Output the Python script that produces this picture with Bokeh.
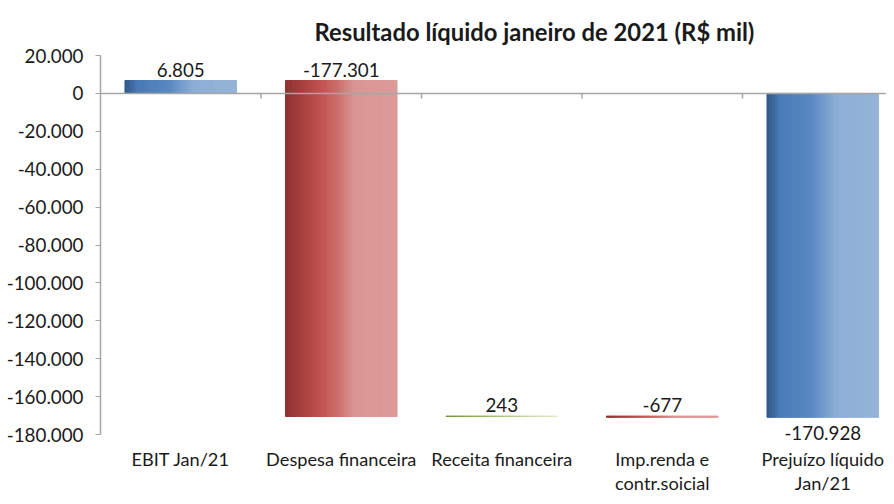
from bokeh.plotting import figure
from bokeh.models import Range1d, FixedTicker, Title, ColumnDataSource, Span
from bokeh.core.properties import value
from bokeh.embed import file_html
from bokeh.resources import INLINE

categories = ["EBIT Jan/21", "Despesa financeira", "Receita financeira",
              "Imp.renda e\ncontr.soicial", "Prejuízo líquido\nJan/21"]
values = [6805, -177301, 243, -677, -170928]
value_labels = ["6.805", "-177.301", "243", "-677", "-170.928"]
kinds = ["total", "delta", "delta", "delta", "total"]
y_ticks = [20000, 0, -20000, -40000, -60000, -80000, -100000, -120000,
           -140000, -160000, -180000]

FONT = "Lato"
FS = "18.8px"
BLUE = [(0.0, (0x2F, 0x57, 0x83)), (0.12, (0x4A, 0x7A, 0xB6)), (0.40, (0x58, 0x88, 0xC2)),
        (0.62, (0x8D, 0xAE, 0xD6)), (1.0, (0x95, 0xB3, 0xD7))]
RED = [(0.0, (0x8C, 0x31, 0x31)), (0.30, (0xBF, 0x4F, 0x4C)), (0.45, (0xCB, 0x68, 0x66)),
       (0.62, (0xD9, 0x95, 0x94)), (1.0, (0xDB, 0x9A, 0x99))]
GREEN = [(0.0, (0x77, 0x93, 0x3C)), (0.5, (0xA9, 0xC2, 0x7A)), (1.0, (0xE1, 0xEB, 0xCB))]


def interp(stops, t):
    for (t0, c0), (t1, c1) in zip(stops[:-1], stops[1:]):
        if t0 <= t <= t1:
            f = (t - t0) / (t1 - t0) if t1 > t0 else 0
            c = [round(a + (b - a) * f) for a, b in zip(c0, c1)]
            return "#%02x%02x%02x" % tuple(c)
    return "#%02x%02x%02x" % stops[-1][1]


# waterfall geometry
bottoms, tops, palettes = [], [], []
running = 0
for v, k in zip(values, kinds):
    if k == "total":
        b, t = 0, v
        running = v
        pal = BLUE
    else:
        b, t = running, running + v
        running += v
        pal = GREEN if v > 0 else RED
    bottoms.append(b)
    tops.append(t)
    palettes.append(pal)

# frame runs to the bottom of the canvas; the y axis is bounded to the tick range
p = figure(width=886, height=496, output_backend="svg", toolbar_location=None,
           x_range=Range1d(-0.5, len(categories) - 0.603),
           y_range=Range1d(min(y_ticks) - 32700, max(y_ticks)),
           min_border_left=100, min_border_right=0, min_border_top=55,
           min_border_bottom=0)
p.outline_line_color = None
p.xgrid.visible = False
p.ygrid.visible = False
p.background_fill_color = "white"
p.border_fill_color = "white"

W = 0.695
N = 40
L, R, B, T, C = [], [], [], [], []
for i, (b, t, pal) in enumerate(zip(bottoms, tops, palettes)):
    lo, hi = min(b, t), max(b, t)
    for j in range(N):
        L.append(i - W / 2 + j * W / N)
        R.append(i - W / 2 + (j + 1) * W / N)
        B.append(lo)
        T.append(hi)
        C.append(interp(pal, (j + 0.5) / N))
p.quad(left=L, right=R, bottom=B, top=T, fill_color=C, line_color=C, line_width=1)

# zero line with category separators
p.add_layout(Span(location=0, dimension="width", line_color="#A6A6A6", line_width=1.5))
sep = [i - 0.5 for i in range(1, len(categories))]
p.segment(x0=sep, x1=sep, y0=[0] * len(sep), y1=[-2700] * len(sep),
          line_color="#A6A6A6", line_width=1.5)

# data labels
lx, ly, lt, base, off = [], [], [], [], []
for i, (b, t, k, s) in enumerate(zip(bottoms, tops, kinds, value_labels)):
    if k == "total" and values[i] < 0:
        lx.append(i); ly.append(min(b, t)); lt.append(s); base.append("top"); off.append(9)
    else:
        lx.append(i); ly.append(max(b, t)); lt.append(s); base.append("bottom"); off.append(-4)
src = ColumnDataSource(dict(x=lx, y=ly, text=lt, base=base, off=off))
p.text(x="x", y="y", text="text", source=src, text_align="center",
       text_baseline="base", y_offset="off", text_font=value(FONT),
       text_font_size=FS, text_color="#1a1a1a")

# category labels below the chart
cat_src = ColumnDataSource(dict(x=list(range(len(categories))),
                                y=[min(y_ticks)] * len(categories), text=categories))
p.text(x="x", y="y", text="text", source=cat_src, text_align="center",
       text_baseline="top", y_offset=13, text_font=value(FONT),
       text_font_size="18.2px", text_color="#1a1a1a", text_line_height=1.1)

# axes
p.xaxis.visible = False
p.yaxis.ticker = FixedTicker(ticks=y_ticks)
p.yaxis.bounds = (min(y_ticks), max(y_ticks))
p.yaxis.major_label_overrides = {v: f"{v:,}".replace(",", ".") for v in y_ticks}
p.yaxis.axis_line_color = "#A6A6A6"
p.yaxis.axis_line_width = 1.5
p.yaxis.major_tick_line_color = "#A6A6A6"
p.yaxis.major_tick_out = 5
p.yaxis.major_tick_in = 0
p.yaxis.minor_tick_line_color = None
p.yaxis.major_label_standoff = 12
p.yaxis.major_label_text_font = FONT
p.yaxis.major_label_text_font_size = FS
p.yaxis.major_label_text_color = "#1a1a1a"

title = Title(text="Resultado líquido janeiro de 2021 (R$ mil)", align="left",
              offset=214, standoff=19, text_font=FONT, text_font_size="23.8px",
              text_font_style="bold", text_color="#1a1a1a")
p.add_layout(title, "above")

open("out.html", "w").write(file_html(p, INLINE))
